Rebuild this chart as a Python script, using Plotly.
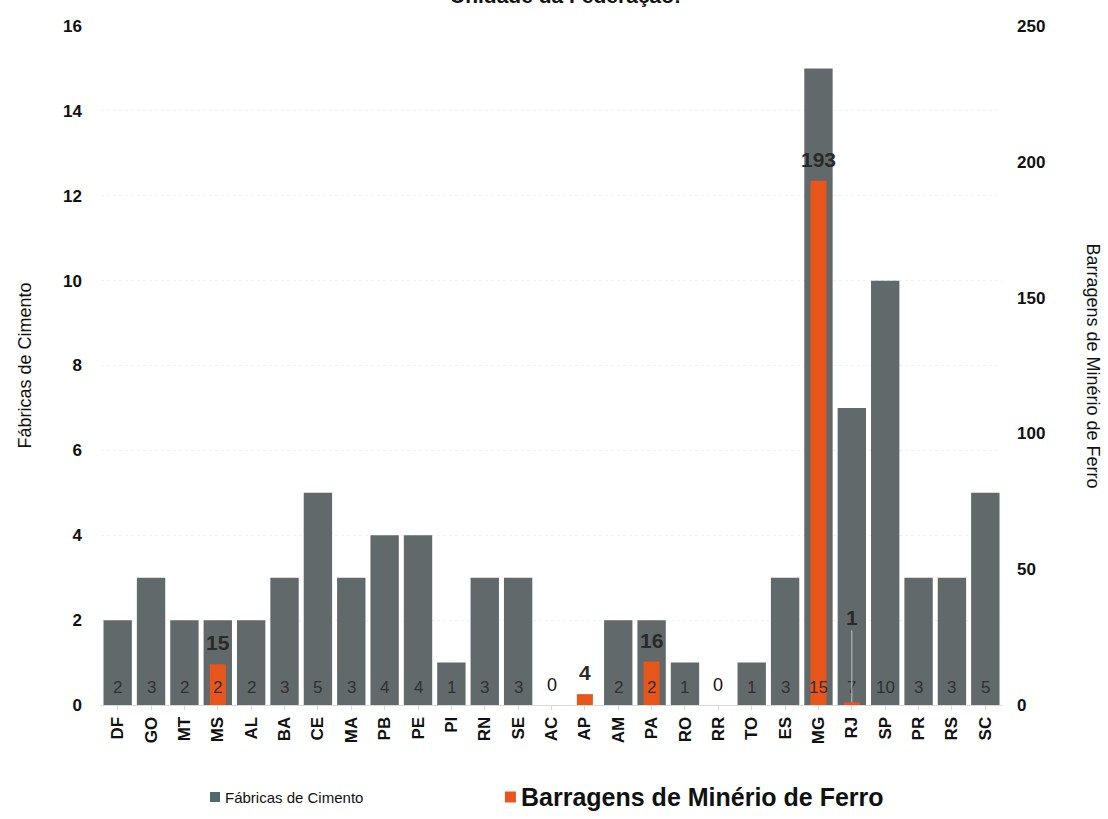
import plotly.graph_objects as go

# Unidades da Federação
estados = ["DF", "GO", "MT", "MS", "AL", "BA", "CE", "MA", "PB", "PE", "PI", "RN", "SE",
           "AC", "AP", "AM", "PA", "RO", "RR", "TO", "ES", "MG", "RJ", "SP", "PR", "RS", "SC"]

# Número de fábricas de cimento por UF
fabricas = [2, 3, 2, 2, 2, 3, 5, 3, 4, 4, 1, 3, 3,
            0, 0, 2, 2, 1, 0, 1, 3, 15, 7, 10, 3, 3, 5]

# Número de barragens de minério de ferro por UF
barragens = [0, 0, 0, 15, 0, 0, 0, 0, 0, 0, 0, 0, 0,
             0, 4, 0, 16, 0, 0, 0, 0, 193, 1, 0, 0, 0, 0]

FONT = "Liberation Sans, Arial, sans-serif"
GREY = "#62696a"
ORANGE = "#e8561c"

fig = go.Figure()

fig.add_trace(go.Bar(
    x=estados, y=fabricas, name="Fábricas de Cimento",
    marker=dict(color=GREY, line=dict(width=0)), width=0.85,
    yaxis="y", showlegend=False,
))

fig.add_trace(go.Bar(
    x=estados, y=barragens, name="Barragens de Minério de Ferro",
    marker=dict(color=ORANGE, line=dict(width=0)), width=0.48,
    yaxis="y2", showlegend=False,
))

annotations = []
shapes = []

# Rótulos das fábricas dentro das barras (na base)
for uf, v, b in zip(estados, fabricas, barragens):
    if v > 0:
        annotations.append(dict(
            x=uf, y=0, xref="x", yref="y", text=str(v), showarrow=False,
            yanchor="bottom", yshift=6,
            font=dict(family=FONT, size=17, color="#2e3132"),
        ))
    elif b == 0:
        annotations.append(dict(
            x=uf, y=0, xref="x", yref="y", text="0", showarrow=False,
            yanchor="bottom", yshift=8,
            font=dict(family=FONT, size=18, color="#111111"),
        ))

# Rótulos das barragens acima das barras
for uf, b in zip(estados, barragens):
    if b <= 0:
        continue
    if b < 3:
        annotations.append(dict(
            x=uf, y=b, xref="x", yref="y2", text=f"<b>{b}</b>",
            showarrow=True, arrowhead=0, arrowwidth=1, arrowcolor="#c4c7c7",
            ax=0, ay=-85, standoff=0,
            font=dict(family=FONT, size=21, color="#2a2a2a"),
        ))
    else:
        annotations.append(dict(
            x=uf, y=b, xref="x", yref="y2", text=f"<b>{b}</b>", showarrow=False,
            yanchor="bottom", yshift=8,
            font=dict(family=FONT, size=21, color="#2a2a2a"),
        ))

# Título (parcialmente visível no topo)
annotations.append(dict(
    x=0.515, y=1, xref="paper", yref="paper", text="<b>Unidade da Federação:</b>",
    showarrow=False, xanchor="center", yanchor="bottom", yshift=17,
    font=dict(family=FONT, size=21, color="#111111"),
))

# Título do eixo secundário
annotations.append(dict(
    x=1, y=0.5, xref="paper", yref="paper", text="Barragens de Minério de Ferro",
    showarrow=False, textangle=90, xanchor="center", yanchor="middle", xshift=91,
    font=dict(family=FONT, size=18, color="#111111"),
))

# Legenda
LEG_Y = -0.1355
legend_items = [
    ("Fábricas de Cimento", "#4f6a6c", 0.121, 10, 15, False),
    ("Barragens de Minério de Ferro", ORANGE, 0.4483, 11, 25, True),
]
for label, color, x0, size, fsize, bold in legend_items:
    shapes.append(dict(
        type="rect", xref="paper", yref="paper",
        xsizemode="pixel", ysizemode="pixel", xanchor=x0, yanchor=LEG_Y,
        x0=0, x1=size, y0=-size / 2, y1=size / 2,
        line=dict(width=0), fillcolor=color,
    ))
    annotations.append(dict(
        x=x0, y=LEG_Y, xref="paper", yref="paper",
        text=f"<b>{label}</b>" if bold else label, showarrow=False,
        xanchor="left", yanchor="middle", xshift=size + 3,
        font=dict(family=FONT, size=fsize, color="#111111"),
    ))

fig.update_layout(
    width=1108, height=819,
    margin=dict(l=101, r=106, t=26, b=114),
    paper_bgcolor="white", plot_bgcolor="white",
    barmode="overlay",
    showlegend=False,
    font=dict(family=FONT, color="#111111"),
    xaxis=dict(
        type="category", tickangle=-90, automargin=False,
        tickfont=dict(family=FONT, size=17, color="#111111"),
        tickprefix="<b>", ticksuffix="</b>",
        showline=True, linecolor="#d8dada", linewidth=1,
        ticks="outside", tickcolor="#d8dada", ticklen=4,
        showgrid=False, range=[-0.5, 26.5],
    ),
    yaxis=dict(
        range=[0, 16], dtick=2, automargin=False,
        tickfont=dict(family=FONT, size=17, color="#111111"),
        tickprefix="<b>", ticksuffix="</b>",
        ticklabelstandoff=18,
        showgrid=True, gridcolor="#f0f1f1", griddash="dot", gridwidth=1,
        zeroline=False, showline=False,
        title=dict(text="Fábricas de Cimento", font=dict(family=FONT, size=18, color="#111111"),
                   standoff=26),
    ),
    yaxis2=dict(
        range=[0, 250], dtick=50, overlaying="y", side="right", automargin=False,
        tickfont=dict(family=FONT, size=17, color="#111111"),
        tickprefix="<b>", ticksuffix="</b>",
        ticklabelstandoff=14,
        showgrid=False, zeroline=False, showline=False,
    ),
    annotations=annotations,
    shapes=shapes,
)

fig.write_html("out.html")
